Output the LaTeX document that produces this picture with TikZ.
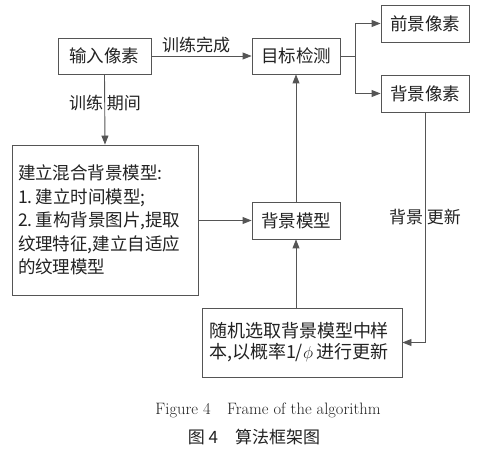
\documentclass[tikz,border=0pt]{standalone}
\usepackage{fontspec}
\newfontfamily\cjk{Noto Sans CJK SC}
\usetikzlibrary{arrows.meta}
\definecolor{linegray}{HTML}{555555}
\definecolor{textc}{HTML}{222222}
\tikzset{
  box/.style={draw=linegray, line width=0.9pt, fill=white, inner sep=0pt, text=textc,
    font=\cjk\fontsize{17.5}{21}\selectfont},
  arr/.style={draw=linegray, line width=0.9pt, -{Triangle[length=9pt,width=7pt]}},
  lbl/.style={text=textc, font=\cjk\fontsize{17}{20}\selectfont, inner sep=0pt},
}
\begin{document}
\begin{tikzpicture}[x=1pt,y=-1pt]
\useasboundingbox (0,0) rectangle (491,468);
\node[box, minimum width=93pt, minimum height=36pt] (in) at (104.5,56) {输入像素};
\node[box, minimum width=88pt, minimum height=36pt] (det) at (296,56) {目标检测};
\node[box, minimum width=88pt, minimum height=37pt] (fg) at (425,23.5) {前景像素};
\node[box, minimum width=88pt, minimum height=37pt] (bgp) at (425,93.5) {背景像素};
\node[box, minimum width=186pt, minimum height=150pt, text width=174pt, align=left,
  font=\cjk\fontsize{17.5}{23.5}\selectfont] (mix) at (105,220)
  {建立混合背景模型:\\1.\hspace{3pt}建立时间模型;\\2.\hspace{3pt}重构背景图片,提取\\纹理特征,建立自适应\\的纹理模型};
\node[box, minimum width=88pt, minimum height=37pt] (bgm) at (296,220.5) {背景模型};
\node[box, minimum width=200pt, minimum height=69pt, text width=186pt, align=left,
  font=\cjk\fontsize{18}{21}\selectfont] (rnd) at (302,342.5)
  {随机选取背景模型中样\\本,以概率1/$\phi$\,进行更新};

\draw[arr] (in.east) -- (det.west);
\node[lbl] (l1) at (196,45) {训练完成};
\draw[arr] (in.south) -- (mix.north);
\node[lbl] (l2) at (105,103) {训练\hspace{4pt}期间};
\draw[arr] (det.east) -- ++(15,0) |- (fg.west);
\draw[arr] (det.east) -- ++(15,0) |- (bgp.west);
\draw[arr] (mix.east |- bgm.west) -- (bgm.west);
\draw[arr] (bgm.north) -- (det.south);
\draw[arr] (bgm.south |- rnd.north) -- (bgm.south);
\draw[arr] (bgp.south) |- (rnd.east);
\node[lbl] (l3) at (425,217) {背景\hspace{4pt}更新};

\node[text=textc, font=\fontsize{16.5}{18}\selectfont, inner sep=0pt] (cap1) at (268,410)
  {Figure 4\quad Frame of the algorithm};
\node[text=textc, font=\cjk\fontsize{17}{20}\selectfont, inner sep=0pt] (cap2) at (254,437)
  {图 4\quad 算法框架图};
\end{tikzpicture}
\end{document}
